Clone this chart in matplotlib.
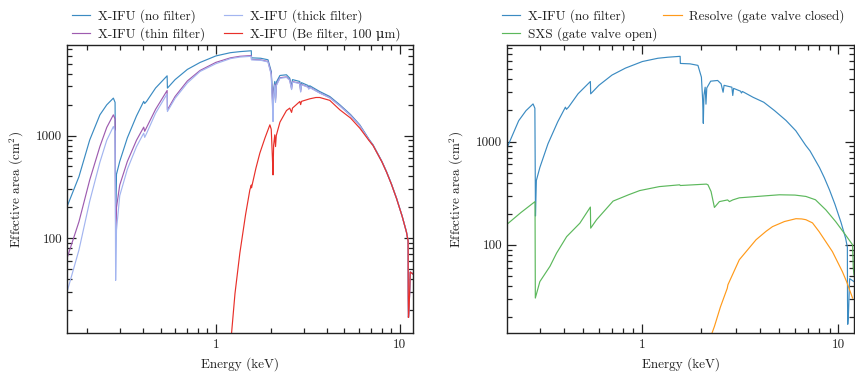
import numpy as np
import matplotlib
matplotlib.use("Agg")
import matplotlib.pyplot as plt
from matplotlib.ticker import FixedLocator, FuncFormatter, LogLocator, NullFormatter

plt.rcParams['font.family'] = ['cmr10', 'DejaVu Serif']
plt.rcParams['mathtext.fontset'] = 'cm'
plt.rcParams['axes.unicode_minus'] = False
plt.rcParams['font.size'] = 9.5

# ---------------- data ----------------
# X-IFU, no filter
E_nofilt = [0.155, 0.18, 0.206, 0.234, 0.255, 0.277, 0.283, 0.285, 0.288, 0.30, 0.33, 0.37,
            0.405, 0.41, 0.42, 0.47, 0.543, 0.545, 0.6, 0.7, 0.82, 1.0, 1.2, 1.35, 1.558, 1.562,
            1.75, 1.92, 2.0, 2.03, 2.045, 2.06, 2.09, 2.11, 2.13, 2.23, 2.42, 2.52, 2.58, 2.61,
            2.86, 2.89, 2.92, 3.17, 3.2, 3.24, 3.67, 4.16, 4.72, 5.4, 6.06, 6.8, 7.16, 8.0, 8.47,
            9.0, 9.6, 10.3, 10.87, 11.1, 11.12, 11.15, 11.25, 11.4, 11.6, 12.0]
A_nofilt = [203, 398, 906, 1590, 1990, 2312, 2100, 190, 420, 560, 950, 1550,
            2150, 2050, 2150, 2900, 3812, 2893, 3500, 4400, 5140, 5950, 6400, 6550, 6680, 5700,
            5650, 5460, 4200, 2500, 1500, 2800, 3357, 2300, 3300, 3840, 3900, 3620, 3000, 3500,
            3357, 2790, 3270, 3070, 2950, 3050, 2680, 2400, 1992, 1600, 1271, 920, 811, 560, 446,
            340, 246, 165, 116, 95, 30, 17, 22, 47, 46, 44]

# X-IFU, thin filter
E_thin = [0.155, 0.18, 0.206, 0.234, 0.255, 0.277, 0.283, 0.285, 0.288, 0.30, 0.33, 0.37,
          0.405, 0.41, 0.42, 0.47, 0.543, 0.545, 0.6, 0.7, 0.82, 1.0, 1.2, 1.35, 1.558, 1.562,
          1.75, 1.92, 2.0, 2.03, 2.045, 2.06, 2.09, 2.11, 2.13, 2.23, 2.42, 2.52, 2.58, 2.61,
          2.86, 2.89, 2.92, 3.17, 3.2, 3.24, 3.67, 4.16, 4.72, 5.4, 6.06, 6.8, 7.16, 8.0, 8.47,
          9.0, 9.6, 10.3, 10.87, 11.1, 11.12, 11.15, 11.25, 11.4, 11.6, 12.0]
A_thin = [64, 145, 370, 782, 1200, 1590, 1450, 110, 200, 330, 560, 900,
          1207, 1100, 1200, 1800, 2743, 1779, 2400, 3400, 4296, 5150, 5700, 5900, 6000, 5500,
          5450, 5250, 4000, 2200, 1400, 2600, 3150, 2200, 3100, 3650, 3720, 3480, 2850, 3350,
          3230, 2680, 3150, 2970, 2850, 2950, 2600, 2340, 1950, 1570, 1250, 908, 802, 555, 443,
          338, 245, 164, 115, 94, 30, 17, 22, 47, 46, 44]

# X-IFU, thick filter
E_thick = [0.155, 0.18, 0.206, 0.234, 0.255, 0.277, 0.283, 0.285, 0.288, 0.30, 0.33, 0.37,
           0.405, 0.41, 0.42, 0.47, 0.543, 0.545, 0.6, 0.7, 0.82, 1.0, 1.2, 1.35, 1.558, 1.562,
           1.75, 1.92, 2.0, 2.03, 2.045, 2.06, 2.09, 2.11, 2.13, 2.23, 2.42, 2.52, 2.58, 2.61,
           2.86, 2.89, 2.92, 3.17, 3.2, 3.24, 3.67, 4.16, 4.72, 5.4, 6.06, 6.8, 7.16, 8.0, 8.47,
           9.0, 9.6, 10.3, 10.87, 11.1, 11.12, 11.15, 11.25, 11.4, 11.6, 12.0]
A_thick = [30, 77, 230, 550, 900, 1224, 1100, 39, 120, 260, 470, 780,
           1055, 960, 1050, 1650, 2546, 1713, 2300, 3250, 4200, 5000, 5600, 5800, 5900, 5450,
           5400, 5200, 3900, 2000, 1368, 2500, 3100, 2100, 3050, 3600, 3680, 3450, 2800, 3320,
           3200, 2650, 3120, 2950, 2830, 2930, 2590, 2330, 1945, 1565, 1248, 906, 800, 554, 442,
           338, 245, 164, 115, 94, 30, 17, 22, 47, 46, 44]

# X-IFU, Be filter 100 um
E_be = [1.19, 1.217, 1.27, 1.35, 1.45, 1.53, 1.558, 1.562, 1.65, 1.734, 1.85, 1.966, 2.0, 2.03,
        2.045, 2.06, 2.09, 2.11, 2.13, 2.23, 2.32, 2.42, 2.52, 2.58, 2.61, 2.86, 2.89, 2.92, 3.24,
        3.5, 3.67, 4.16, 4.72, 5.4, 6.06, 6.8, 7.16, 8.0, 8.47, 9.0, 9.6, 10.3, 10.87, 11.1,
        11.12, 11.15, 11.25, 11.4, 11.6, 12.0]
A_be = [10, 12, 29, 72, 170, 296, 330, 310, 480, 675, 950, 1271, 1150, 600,
        414, 800, 1016, 781, 1000, 1350, 1531, 1750, 1848, 1680, 1850, 2143, 2000, 2150, 2277,
        2345, 2345, 2200, 1780, 1480, 1180, 895, 798, 553, 441, 337, 244, 164, 115, 94,
        30, 17, 22, 47, 46, 44]

# SXS, gate valve open
E_sxs = [0.20, 0.204, 0.24, 0.2835, 0.2845, 0.30, 0.338, 0.365, 0.411, 0.48, 0.543, 0.545,
         0.584, 0.709, 0.85, 0.969, 1.22, 1.55, 1.56, 2.12, 2.16, 2.24, 2.33, 2.47, 2.72, 2.78,
         2.89, 3.12, 4.44, 5.0, 6.0, 6.82, 7.63, 8.62, 9.67, 10.85, 11.8, 11.9, 12.0]
A_sxs = [155, 158, 205, 262, 30.5, 44, 62, 83, 120, 162, 232, 145,
         175, 265, 305, 335, 366, 381, 375, 387, 381, 328, 230, 262, 272, 262,
         272, 285, 300, 305, 303, 294, 273, 218, 168, 125, 100, 60, 51]

# Resolve, gate valve closed
E_res = [2.15, 2.25, 2.33, 2.5, 2.71, 2.73, 3.12, 3.8, 4.27, 4.61, 5.3, 6.07, 6.5, 6.82, 7.37,
         7.97, 9.31, 10.47, 11.0, 11.8]
A_res = [13.5, 13.5, 16.2, 25, 38, 41, 71.6, 112, 135, 150, 168, 179, 178, 175, 163,
         134, 86, 55, 44, 30.5]

C_BLUE = '#3b8bc2'
C_PURPLE = '#9e5cb0'
C_LIGHT = '#a3b5f0'
C_RED = '#e8302a'
C_ORANGE = '#ff9a1a'
C_GREEN = '#5cb85c'
C_TXT = '#222222'

W, H = 855, 375
fig = plt.figure(figsize=(W / 100, H / 100), dpi=100)
axL = fig.add_axes([67 / W, (H - 333) / H, 346 / W, 288 / H])
axR = fig.add_axes([507 / W, (H - 333) / H, 347 / W, 288 / H])

lw = 0.85
axL.plot(E_nofilt, A_nofilt, color=C_BLUE, lw=lw, label='X-IFU (no filter)')
axL.plot(E_thin, A_thin, color=C_PURPLE, lw=lw, label='X-IFU (thin filter)')
axL.plot(E_thick, A_thick, color=C_LIGHT, lw=lw, label='X-IFU (thick filter)')
axL.plot(E_be, A_be, color=C_RED, lw=lw, label='X-IFU (Be filter, 100 \u03bcm)')

axR.plot(E_nofilt, A_nofilt, color=C_BLUE, lw=lw, label='X-IFU (no filter)')
axR.plot(E_sxs, A_sxs, color=C_GREEN, lw=lw, label='SXS (gate valve open)')
axR.plot(E_res, A_res, color=C_ORANGE, lw=lw, label='Resolve (gate valve closed)')

axL.set_xlim(0.155, 11.8)
axL.set_ylim(12, 7600)
axR.set_xlim(0.204, 12.0)
axR.set_ylim(14, 8600)

fmt = FuncFormatter(lambda v, _: f'{v:g}')
for ax in (axL, axR):
    ax.set_xscale('log')
    ax.set_yscale('log')
    ax.xaxis.set_major_locator(FixedLocator([0.1, 1, 10]))
    ax.yaxis.set_major_locator(FixedLocator([10, 100, 1000, 10000]))
    ax.xaxis.set_minor_locator(LogLocator(base=10, subs=np.arange(2, 10), numticks=20))
    ax.yaxis.set_minor_locator(LogLocator(base=10, subs=np.arange(2, 10), numticks=20))
    ax.xaxis.set_major_formatter(fmt)
    ax.yaxis.set_major_formatter(fmt)
    ax.xaxis.set_minor_formatter(NullFormatter())
    ax.yaxis.set_minor_formatter(NullFormatter())
    ax.tick_params(which='both', direction='in', top=True, right=True, width=0.9,
                   labelsize=9.5, colors=C_TXT)
    ax.tick_params(which='major', length=6.5)
    ax.tick_params(which='minor', length=3.5)
    ax.tick_params(axis='x', which='major', pad=4)
    ax.tick_params(axis='y', which='major', pad=3.5)
    for s in ax.spines.values():
        s.set_linewidth(1.0)
        s.set_color(C_TXT)
    ax.set_xlabel('Energy (keV)', fontsize=9.5, color=C_TXT, labelpad=5)
    ax.set_ylabel('Effective area (cm$^2$)', fontsize=9.5, color=C_TXT, labelpad=7)

legkw = dict(ncol=2, frameon=False, fontsize=9.5, loc='lower left', borderpad=0,
             borderaxespad=0, handlelength=1.4, handletextpad=0.55, labelspacing=0.35)
legL = axL.legend(bbox_to_anchor=(72 / W, (H - 41) / H), bbox_transform=fig.transFigure,
                  columnspacing=1.45, **legkw)
legR = axR.legend(bbox_to_anchor=(502 / W, (H - 41) / H), bbox_transform=fig.transFigure,
                  columnspacing=0.45, **legkw)
for leg in (legL, legR):
    for t in leg.get_texts():
        t.set_color(C_TXT)

fig.savefig('out.png', dpi=100)
